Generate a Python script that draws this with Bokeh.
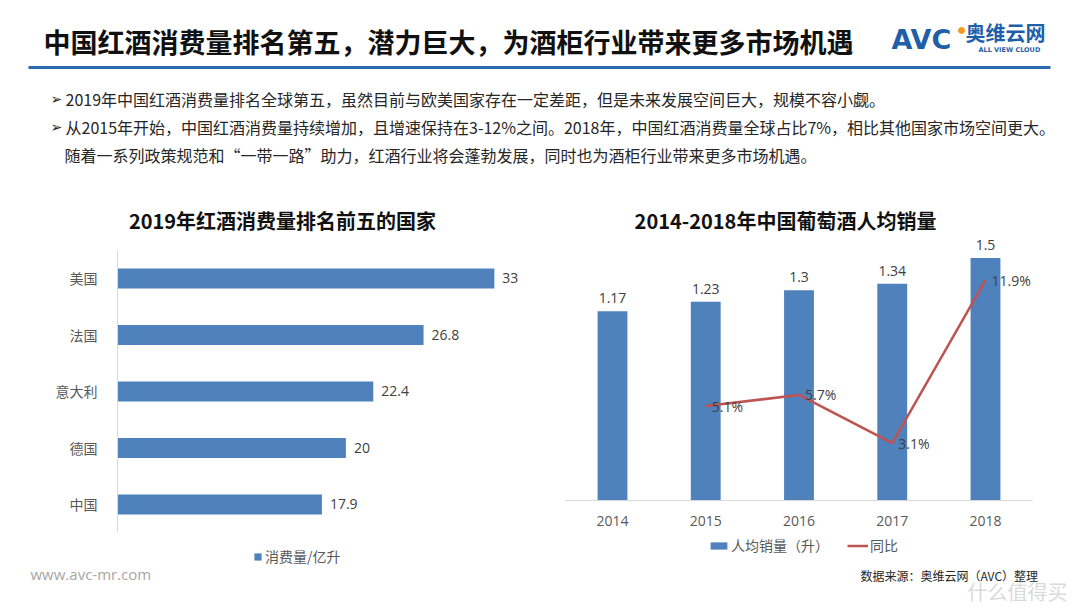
from bokeh.plotting import figure
from bokeh.models import (Range1d, ColumnDataSource, Label, Legend, LegendItem,
                          LinearAxis, FixedTicker)
from bokeh.layouts import column, row
from bokeh.embed import file_html
from bokeh.resources import INLINE
from bokeh.core.properties import value

# ---------------- data ----------------
countries = ["美国", "法国", "意大利", "德国", "中国"]
consumption = [33, 26.8, 22.4, 20, 17.9]
consumption_labels = ["33", "26.8", "22.4", "20", "17.9"]

years = ["2014", "2015", "2016", "2017", "2018"]
per_capita = [1.17, 1.23, 1.3, 1.34, 1.5]
per_capita_labels = ["1.17", "1.23", "1.3", "1.34", "1.5"]

yoy_years = ["2015", "2016", "2017", "2018"]
yoy = [5.1, 5.7, 3.1, 11.9]
yoy_labels = ["5.1%", "5.7%", "3.1%", "11.9%"]

TITLE = "中国红酒消费量排名第五，潜力巨大，为酒柜行业带来更多市场机遇"
BULLETS = [
    "2019年中国红酒消费量排名全球第五，虽然目前与欧美国家存在一定差距，但是未来发展空间巨大，规模不容小觑。",
    "从2015年开始，中国红酒消费量持续增加，且增速保持在3-12%之间。2018年，中国红酒消费量全球占比7%，相比其他国家市场空间更大。",
    "随着一系列政策规范和“一带一路”助力，红酒行业将会蓬勃发展，同时也为酒柜行业带来更多市场机遇。",
]
LEFT_TITLE = "2019年红酒消费量排名前五的国家"
RIGHT_TITLE = "2014-2018年中国葡萄酒人均销量"
LEFT_LEGEND = "消费量/亿升"
BAR_LEGEND = "人均销量（升）"
LINE_LEGEND = "同比"
SOURCE = "数据来源：奥维云网（AVC）整理"
SITE = "www.avc-mr.com"

FONT = "Noto Sans CJK SC"
BLUE = "#4F81BD"
RED = "#BE5350"
GRAY = "#595959"
DARK = "#262626"
LOGO = "#1F5FA8"

# ---------------- header figure (page coordinates) ----------------
top = figure(width=1080, height=235, x_range=Range1d(0, 1080), y_range=Range1d(235, 0),
             output_backend="svg", toolbar_location=None, min_border=0,
             x_axis_location=None, y_axis_location=None)
top.grid.visible = False
top.outline_line_color = None

top.text(x=[43], y=[41], text=[TITLE], text_font=value(FONT), text_font_size="27px",
         text_font_style="bold", text_color="#111111", text_align="left", text_baseline="middle")
top.segment(x0=[28], y0=[67], x1=[1050], y1=[67], line_color="#2C6AAE", line_width=3)

# logo
top.text(x=[891], y=[39], text=["AVC"], text_font=value("DejaVu Sans"), text_font_size="27px",
         text_font_style="bold", text_color=LOGO, text_align="left", text_baseline="middle")
top.scatter(x=[961], y=[30], size=6, color="#F39A1E", marker="circle")
top.text(x=[965], y=[32], text=["奥维云网"], text_font=value(FONT), text_font_size="20px",
         text_font_style="bold", text_color=LOGO, text_align="left", text_baseline="middle")
top.text(x=[978], y=[49], text=["ALL VIEW CLOUD"], text_font=value("DejaVu Sans"), text_font_size="6.5px",
         text_font_style="bold", text_color=LOGO, text_align="left", text_baseline="middle")

# bullets
top.text(x=[50, 50], y=[98, 126], text=["➢", "➢"], text_font=value("DejaVu Sans"), text_font_size="14px",
         text_color=DARK, text_align="left", text_baseline="middle")
top.text(x=[65, 65, 64], y=[98, 126, 154], text=BULLETS, text_font=value(FONT), text_font_size="16px",
         text_color=DARK, text_align="left", text_baseline="middle")

# section titles
top.text(x=[282, 785], y=[220, 220], text=[LEFT_TITLE, RIGHT_TITLE], text_font=value(FONT),
         text_font_size="20px", text_font_style="bold", text_color="#111111",
         text_align="center", text_baseline="middle")

# ---------------- left chart ----------------
ypos = [len(countries) - 1 - i for i in range(len(countries))]
left = figure(width=540, height=373, x_range=Range1d(-10.24, 37.04), y_range=Range1d(-1.841, 4.761),
              output_backend="svg", toolbar_location=None, min_border=0,
              x_axis_location=None, y_axis_location=None)
left.grid.visible = False
left.outline_line_color = None

yaxis = LinearAxis(fixed_location=0, ticker=FixedTicker(ticks=ypos),
                   major_label_overrides={p: c for p, c in zip(ypos, countries)},
                   bounds=(-0.5, len(countries) - 0.5))
yaxis.axis_line_color = "#D9D9D9"
yaxis.major_tick_line_color = None
yaxis.minor_tick_line_color = None
yaxis.major_label_text_font = FONT
yaxis.major_label_text_font_size = "14px"
yaxis.major_label_text_color = GRAY
yaxis.major_label_standoff = 14
left.add_layout(yaxis, "left")

lsrc = ColumnDataSource(dict(y=ypos, v=consumption, t=consumption_labels))
hb = left.hbar(y="y", right="v", height=0.354, source=lsrc, fill_color=BLUE, line_color=None)
left.text(x="v", y="y", text="t", source=lsrc, x_offset=8, text_font=value("Open Sans"),
          text_font_size="14px", text_color="#404040", text_align="left", text_baseline="middle")

left.add_layout(Label(x=30, y=35, x_units="screen", y_units="screen", text=SITE,
                      text_align="left", text_baseline="middle", text_font="Open Sans",
                      text_font_size="15px", text_color="#A6A6A6"))
lleg = Legend(items=[LegendItem(label=LEFT_LEGEND, renderers=[hb])], location=(253, 42),
              orientation="horizontal", padding=0, margin=0, border_line_color=None,
              background_fill_alpha=0, glyph_width=9, glyph_height=9, label_standoff=3,
              label_height=18, label_text_font=FONT, label_text_font_size="14px",
              label_text_color=GRAY)
left.add_layout(lleg)

# ---------------- right chart ----------------
xpos = list(range(len(years)))
year_pos = {y: i for i, y in enumerate(years)}
right = figure(width=540, height=373, x_range=Range1d(-0.772, 5.019), y_range=Range1d(-0.668, 1.639),
               output_backend="svg", toolbar_location=None, min_border=0,
               x_axis_location=None, y_axis_location=None)
right.extra_y_ranges = {"pct": Range1d(-5.83, 14.31)}
right.grid.visible = False
right.outline_line_color = None

xaxis = LinearAxis(fixed_location=0, ticker=FixedTicker(ticks=xpos),
                   major_label_overrides={p: y for p, y in zip(xpos, years)},
                   bounds=(-0.5, len(years) - 0.5))
xaxis.axis_line_color = "#D9D9D9"
xaxis.major_tick_line_color = None
xaxis.minor_tick_line_color = None
xaxis.major_label_text_font = "Open Sans"
xaxis.major_label_text_font_size = "14px"
xaxis.major_label_text_color = GRAY
xaxis.major_label_standoff = 10
right.add_layout(xaxis, "below")

rsrc = ColumnDataSource(dict(x=xpos, v=per_capita, t=per_capita_labels))
vb = right.vbar(x="x", top="v", width=0.32, source=rsrc, fill_color=BLUE, line_color=None)
right.text(x="x", y="v", text="t", source=rsrc, y_offset=-8, text_font=value("Open Sans"),
           text_font_size="14px", text_color="#404040", text_align="center", text_baseline="bottom")

psrc = ColumnDataSource(dict(x=[year_pos[y] for y in yoy_years], v=yoy, t=yoy_labels))
ln = right.line(x="x", y="v", source=psrc, y_range_name="pct", line_color=RED, line_width=2.5)
right.text(x="x", y="v", text="t", source=psrc, y_range_name="pct", x_offset=6,
           text_font=value("Open Sans"), text_font_size="14px", text_color="#404040",
           text_align="left", text_baseline="middle")

right.add_layout(Label(x=320, y=33, x_units="screen", y_units="screen", text=SOURCE,
                       text_align="left", text_baseline="middle", text_font=FONT,
                       text_font_size="12px", text_color="#262626"))
right.add_layout(Label(x=427, y=17, x_units="screen", y_units="screen", text="什么值得买",
                       text_align="left", text_baseline="middle", text_font=FONT,
                       text_font_size="20px", text_color="#DADADA"))
rleg = Legend(items=[LegendItem(label=BAR_LEGEND, renderers=[vb]),
                     LegendItem(label=LINE_LEGEND, renderers=[ln])],
              location=(168, 53), orientation="horizontal", padding=0, margin=0, spacing=18,
              border_line_color=None, background_fill_alpha=0, glyph_width=21, glyph_height=9,
              label_standoff=2, label_height=18, label_text_font=FONT,
              label_text_font_size="14px", label_text_color=GRAY)
right.add_layout(rleg)

layout = column(top, row(left, right))
open("out.html", "w").write(file_html(layout, INLINE))
